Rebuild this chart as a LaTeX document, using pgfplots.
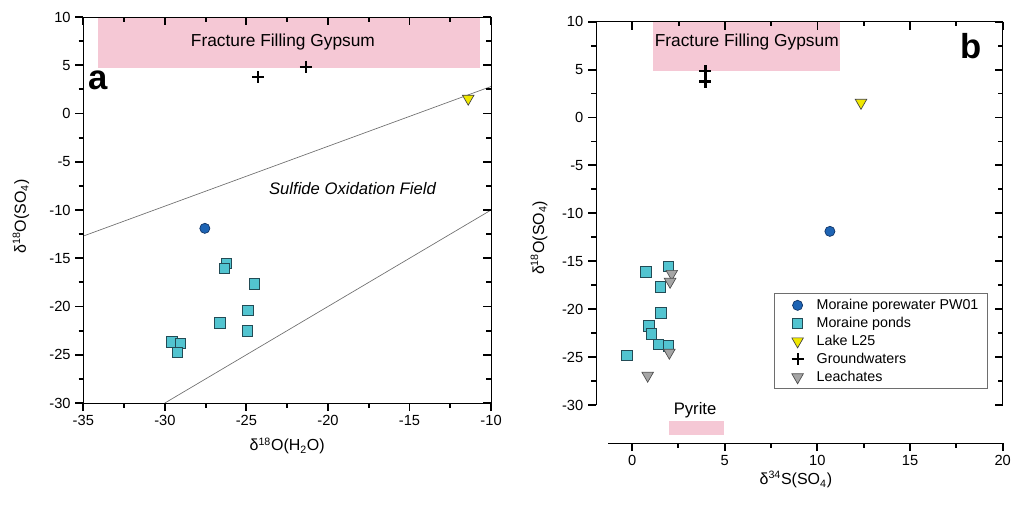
\documentclass[border=0pt]{standalone}
\usepackage{pgfplots}
\pgfplotsset{compat=1.18}
\usepackage{fontspec}
\setmainfont{Liberation Sans}
\definecolor{pinkbox}{RGB}{245,200,213}
\definecolor{cblue}{RGB}{30,100,180}
\definecolor{cblueE}{RGB}{15,50,100}
\definecolor{cteal}{RGB}{82,196,208}
\definecolor{ctealE}{RGB}{35,75,85}
\definecolor{cyel}{RGB}{240,232,0}
\definecolor{cgray}{RGB}{165,165,165}
\definecolor{lgray}{RGB}{110,110,110}
\tikzset{mtk/.style={black, line width=1pt}}
\pgfplotsset{
  base/.style={
    scale only axis, anchor=south west,
    /pgf/number format/assume math mode=true, minor tick num=1,
    major tick length=6pt, minor tick length=3.5pt,
    tick style={black, line width=1.4pt},
    axis line style={line width=0.7pt},
    tick label style={font=\fontsize{11}{13}\selectfont},
    label style={font=\fontsize{12}{14}\selectfont},
  },
  pw/.style={only marks, mark=*, mark size=3.8pt, mark options={fill=cblue, draw=cblueE, line width=0.5pt}},
  mp/.style={only marks, mark=square*, mark size=3.9pt, mark options={fill=cteal, draw=ctealE, line width=0.5pt}},
  lk/.style={only marks, mark=triangle*, mark size=5pt, mark options={rotate=180, fill=cyel, draw=black!75, line width=0.5pt}},
  gw/.style={only marks, mark=+, mark size=4.5pt, mark options={black, line width=1.6pt}},
  lc/.style={only marks, mark=triangle*, mark size=5pt, mark options={rotate=180, fill=cgray, draw=black!70, line width=0.5pt}},
}
\begin{document}
\begin{tikzpicture}
\path[use as bounding box] (0,0) rectangle (759pt,378pt);
% ---------------- panel a ----------------
\begin{axis}[base, at={(62.5pt,75.75pt)}, width=305.8pt, height=289.5pt,
  xmin=-35, xmax=-10, ymin=-30, ymax=10,
  xtick={-35,-30,...,-10}, ytick={-30,-25,...,10},
  tick align=outside, xtick pos=bottom, ytick pos=left, clip=false,
  xlabel={δ\textsuperscript{18}O(H\textsubscript{2}O)},
  ylabel={δ\textsuperscript{18}O(SO\textsubscript{4})},
  xlabel style={at={(axis description cs:0.5,-0.111)}, anchor=center},
  ylabel style={at={(axis description cs:-0.153,0.483)}, anchor=center}]
\fill[pinkbox] (axis cs:-34.1,4.75) rectangle (axis cs:-10.7,10);
\node[font=\fontsize{13}{15}\selectfont] at (axis cs:-22.76,7.44) {Fracture Filling Gypsum};
\addplot[lgray, line width=0.5pt] coordinates {(-35,-12.7) (-10,2.8)};
\addplot[lgray, line width=0.5pt] coordinates {(-30,-30) (-10,-10)};
\node[font=\itshape\fontsize{12.5}{14}\selectfont] at (axis cs:-18.5,-7.75) {Sulfide Oxidation Field};
\node[font=\bfseries\fontsize{26}{28}\selectfont] at (axis cs:-34.1,3.4) {a};
\addplot[pw] coordinates {(-27.55,-11.9)};
\addplot[mp] coordinates {(-26.23,-15.53) (-26.37,-16.04) (-24.52,-17.67) (-24.92,-20.39) (-26.62,-21.71) (-24.96,-22.54) (-29.58,-23.65) (-29.07,-23.82) (-29.24,-24.75)};
\addplot[lk] coordinates {(-11.4,1.55)};
\addplot[gw] coordinates {(-24.27,3.75) (-21.35,4.85)};
\pgfplotsinvokeforeach{-35,-30,-25,-20,-15,-10}{\draw[mtk] (axis cs:#1,-30) -- ++(0pt,-6pt);}
\pgfplotsinvokeforeach{-32.5,-27.5,-22.5,-17.5,-12.5}{\draw[mtk] (axis cs:#1,-30) -- ++(0pt,-3.5pt);}
\pgfplotsinvokeforeach{-30,-25,-20,-15,-10,-5,0,5,10}{\draw[mtk] (axis cs:-35,#1) -- ++(-6pt,0pt);}
\pgfplotsinvokeforeach{-27.5,-22.5,-17.5,-12.5,-7.5,-2.5,2.5,7.5}{\draw[mtk] (axis cs:-35,#1) -- ++(-3.5pt,0pt);}
\end{axis}
\begin{axis}[base, at={(62.5pt,75.75pt)}, width=305.8pt, height=289.5pt,
  xmin=-35, xmax=-10, ymin=-30, ymax=10,
  xtick={-35,-30,...,-10}, ytick={-30,-25,...,10},
  tick align=inside, xtick pos=top, ytick pos=right,
  xticklabels={}, yticklabels={}]
\end{axis}
% ---------------- panel b ----------------
\begin{axis}[base, at={(447pt,74.25pt)}, width=305pt, height=287.5pt,
  xmin=-1.96, xmax=20, ymin=-30, ymax=10,
  axis x line*=top, axis y line*=left,
  xtick=\empty, ytick={-30,-25,...,10},
  tick align=outside, clip=false,
  ylabel={δ\textsuperscript{18}O(SO\textsubscript{4})},
  ylabel style={at={(axis description cs:-0.14,0.436)}, anchor=center},
  legend cell align=left,
  legend image code/.code={\path (-12pt,0pt) (12pt,0pt); \draw[#1] plot coordinates {(0pt,0pt)};},
  legend style={at={(0.438,0.291)}, anchor=north west, draw=lgray, line width=0.6pt,
    font=\fontsize{10.7}{13}\selectfont, inner xsep=5pt, inner ysep=2pt, row sep=0.2pt, column sep=0pt}]
\fill[pinkbox] (axis cs:1.1,4.85) rectangle (axis cs:11.2,10);
\node[font=\fontsize{13}{15}\selectfont] at (axis cs:6.18,7.9) {Fracture Filling Gypsum};
\fill[pinkbox] (axis cs:2.0,-33.1) rectangle (axis cs:4.96,-31.65);
\node[font=\fontsize{12.5}{14}\selectfont] at (axis cs:3.39,-30.52) {Pyrite};
\node[font=\bfseries\fontsize{26}{28}\selectfont] at (axis cs:18.27,7.4) {b};
\addplot[pw] coordinates {(10.67,-11.88)};
\addlegendentry{Moraine porewater PW01}
\addplot[mp] coordinates {(1.96,-15.5) (0.74,-16.09) (1.51,-17.65) (1.53,-20.37) (0.90,-21.72) (1.03,-22.59) (1.42,-23.67) (1.94,-23.84) (-0.30,-24.81)};
\addlegendentry{Moraine ponds}
\addplot[lk] coordinates {(12.35,1.55)};
\addlegendentry{Lake L25}
\addplot[gw] coordinates {(3.95,4.85) (3.95,3.75)};
\addlegendentry{Groundwaters}
\addplot[lc] coordinates {(2.13,-16.3) (2.04,-17.13) (2.0,-24.53) (0.83,-26.93)};
\addlegendentry{Leachates}
\pgfplotsinvokeforeach{-30,-25,-20,-15,-10,-5,0,5,10}{\draw[mtk] (axis cs:-1.96,#1) -- ++(-6pt,0pt);}
\pgfplotsinvokeforeach{-27.5,-22.5,-17.5,-12.5,-7.5,-2.5,2.5,7.5}{\draw[mtk] (axis cs:-1.96,#1) -- ++(-3.5pt,0pt);}
\end{axis}
\begin{axis}[base, at={(447pt,74.25pt)}, width=305pt, height=287.5pt,
  xmin=-1.96, xmax=20, ymin=-30, ymax=10,
  axis x line*=top, axis y line*=right,
  xtick={0,5,...,20}, ytick={-30,-25,...,10},
  tick align=inside, xticklabels={}, yticklabels={}]
\end{axis}
\begin{axis}[base, at={(456pt,45.75pt)}, width=296pt, height=10pt,
  xmin=-1.3, xmax=20, ymin=0, ymax=1,
  axis x line*=bottom, axis y line=none, ytick=\empty,
  xtick={0,5,...,20}, tick align=outside, clip=false,
  xlabel={δ\textsuperscript{34}S(SO\textsubscript{4})},
  xlabel style={at={(axis description cs:0.476,0)}, anchor=center, yshift=-27.5pt}]
\pgfplotsinvokeforeach{0,5,10,15,20}{\draw[mtk] (axis cs:#1,0) -- ++(0pt,-6pt);}
\pgfplotsinvokeforeach{2.5,7.5,12.5,17.5}{\draw[mtk] (axis cs:#1,0) -- ++(0pt,-3.5pt);}
\end{axis}
\end{tikzpicture}
\end{document}
